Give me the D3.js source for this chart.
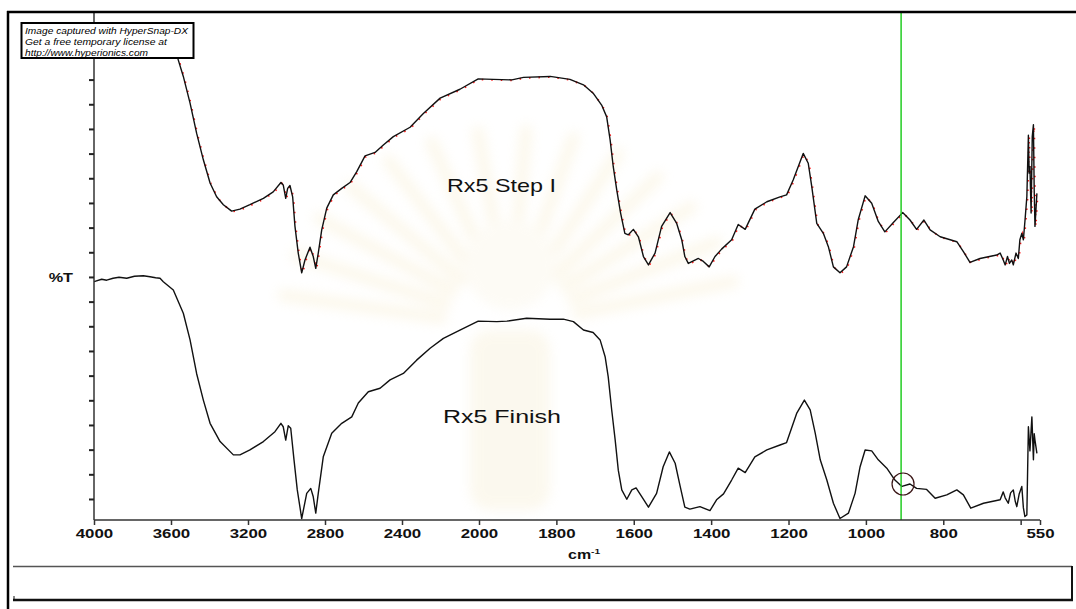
<!DOCTYPE html>
<html>
<head>
<meta charset="utf-8">
<script src="https://cdn.jsdelivr.net/npm/d3@7"></script>
<style>
  html, body { margin: 0; padding: 0; background: #fff; }
  svg { display: block; }
</style>
</head>
<body>
<svg id="chart" width="1076" height="609"></svg>
<script>
// ---------- DATA (wavenumber in cm-1, transmittance in arbitrary %T units) ----------
const stepWn = [3620,3590,3562,3536,3501,3467,3432,3397,3363,3328,3285,3242,3190,3120,3069,3029,3017,3004,2994,2982,2968,2956,2939,2921,2904,2878,2861,2848,2835,2817,2791,2757,2713,2670,2635,2592,2540,2497,2445,2358,2289,2202,2099,2004,1963,1915,1885,1816,1765,1730,1705,1683,1670,1661,1653,1644,1634,1623,1614,1601,1588,1575,1562,1545,1528,1506,1489,1476,1468,1459,1433,1420,1405,1390,1373,1347,1330,1312,1287,1256,1222,1205,1188,1162,1149,1140,1127,1110,1097,1084,1067,1050,1032,1020,1002,985,968,951,929,905,886,869,850,834,808,765,748,731,705,662,653,645,640,634,629,623,619,612,606,602,597,593,589,584,580,578,576,573,570,567,565,563,558];
const stepT  = [100,97,93.2,89.9,84.5,78.4,73.0,68.3,65.5,63.9,62.6,63.0,63.9,65.2,66.5,68.4,67.9,65.2,67.2,67.8,65.5,59.5,54.1,50.1,52.7,55.3,53.4,51.0,54.1,58.8,63.2,65.9,67.2,68.4,70.6,73.8,74.5,76.0,77.7,79.6,82.4,85.5,87.3,89.4,89.3,89.2,89.7,89.9,89.3,88.2,86.5,84.1,81.7,77.0,71.6,66.9,62.2,58.1,57.8,58.9,57.4,53.4,51.7,54.1,59.5,62.3,60.1,56.8,53.4,52.0,53.0,52.4,51.3,53.4,54.9,56.8,59.9,58.9,63.0,64.5,65.5,65.9,68.9,74.3,72.3,67.6,60.1,58.1,55.4,51.3,50.1,51.3,55.4,60.8,65.7,64.2,60.5,58.4,60.3,62.3,60.8,58.9,60.8,58.8,57.4,56.4,54.4,52.2,53.0,53.7,54.1,52.7,51.7,53.4,52.0,52.7,51.7,54.1,53.0,56.8,58.1,56.8,60.5,65.5,78.0,70.3,71.6,62.2,77.7,80.1,66.9,59.5,66.2];

const finWn = [4000,3960,3934,3901,3870,3830,3790,3744,3709,3680,3657,3640,3588,3536,3501,3467,3432,3397,3345,3276,3242,3190,3120,3060,3029,3017,3004,2991,2978,2961,2944,2921,2895,2874,2861,2848,2835,2809,2765,2713,2661,2627,2575,2514,2462,2393,2324,2254,2185,2099,2004,1954,1928,1877,1816,1782,1756,1730,1705,1687,1674,1666,1657,1648,1640,1631,1618,1605,1594,1579,1562,1541,1524,1508,1493,1480,1468,1455,1429,1403,1386,1368,1347,1330,1312,1287,1256,1222,1205,1179,1159,1144,1131,1118,1101,1084,1067,1045,1028,1015,1002,985,968,946,925,907,886,869,843,821,791,765,748,729,696,653,645,640,632,626,619,614,610,604,597,593,589,584,580,576,571,567,565,563,558];
const finT  = [48.3,48.8,48.6,49.0,49.2,49.0,49.4,49.5,49.3,49.1,49.0,48.3,46.6,41.9,36.5,29.7,24.3,19.6,15.9,13.2,13.2,14.2,15.9,17.9,19.6,18.9,16.2,19.1,18.6,12.2,6.1,0.3,5.4,6.4,4.7,1.4,5.4,12.8,17.6,19.6,20.9,23.7,26.0,26.7,28.4,29.7,32.4,34.8,36.8,38.5,40.3,40.2,40.3,40.9,40.7,40.7,40.2,38.5,38.0,36.5,33.1,29.0,22.3,16.2,10.1,6.1,4.2,6.1,6.5,4.7,2.6,5.4,10.8,13.8,11.5,6.8,2.6,2.2,2.7,1.9,4.1,5.3,8.1,10.5,9.6,12.8,14.2,15.2,15.7,21.6,24.3,22.3,17.6,12.2,8.1,3.4,0.3,1.4,5.4,10.8,14.2,14.0,12.2,10.5,8.1,6.8,7.3,6.4,6.2,4.4,5.1,6.1,5.1,2.4,3.4,4.1,5.7,4.5,3.4,5.5,6.1,3.8,2.7,5.2,6.8,2.5,0.7,1.0,18.9,14.0,20.9,12.2,17.5,16.2,13.5];

const xTickValues = [4000,3600,3200,2800,2400,2000,1800,1600,1400,1200,1000,800,600,550];
const xTickLabels = ["4000","3600","3200","2800","2400","2000","1800","1600","1400","1200","1000","800","","550"];
const yTickValues = [4.26,9.26,14.26,19.26,24.26,29.26,34.26,39.26,44.26,49.26,54.26,59.26,64.26,69.26,74.26,79.26,84.26,89.26];
const seriesLabels = ["Rx5 Step I","Rx5 Finish"];
const markerWn = 909;                 // green cursor line
const circleMark = {wn: 904, t: 7.3}; // circled point on the Finish curve
const watermarkLines = ["Image captured with HyperSnap-DX","Get a free temporary license at","http://www.hyperionics.com"];

// ---------- SCALES ----------
const svg = d3.select("#chart");
const x = d3.scaleLinear().domain([4000, 2000, 550]).range([94, 479, 1040]);
const y = d3.scaleLinear().domain([0, 94]).range([520, 56.2]);
const plotTop = 13, plotBottom = 520, plotLeft = 94, plotRight = 1040;

svg.append("rect").attr("width", 1076).attr("height", 609).attr("fill", "#fff");

// very faint background emblem (watermark of the source document)
const defs = svg.append("defs");
defs.append("filter").attr("id", "blur").append("feGaussianBlur").attr("stdDeviation", 6);
defs.append("clipPath").attr("id", "plotClip").append("rect")
  .attr("x", plotLeft).attr("y", plotTop).attr("width", plotRight - plotLeft + 2).attr("height", plotBottom - plotTop + 1);

const emb = svg.append("g").attr("filter", "url(#blur)").attr("opacity", 0.22);
const cx = 510, cy = 330;
d3.range(-170, -9, 12).forEach(a => {
  const r = a * Math.PI / 180;
  emb.append("line")
    .attr("x1", cx + Math.cos(r) * 70).attr("y1", cy + Math.sin(r) * 70)
    .attr("x2", cx + Math.cos(r) * 230).attr("y2", cy + Math.sin(r) * 200)
    .attr("stroke", "#f1dfa8").attr("stroke-width", 12).attr("stroke-linecap", "round");
});
emb.append("circle").attr("cx", cx).attr("cy", 265).attr("r", 45).attr("fill", "#f7eed3");
emb.append("rect").attr("x", 470).attr("y", 330).attr("width", 80).attr("height", 180).attr("fill", "#f1e2b4").attr("rx", 20);

// ---------- SPECTRA ----------
const line = d3.line().x(d => x(d[0])).y(d => y(d[1]));
const stepData = stepWn.map((w, i) => [w, stepT[i]]);
const finData = finWn.map((w, i) => [w, finT[i]]);

const plot = svg.append("g").attr("clip-path", "url(#plotClip)");
plot.append("path").datum(stepData).attr("d", line)
  .attr("fill", "none").attr("stroke", "#ff1a1a").attr("stroke-width", 1.8)
  .attr("stroke-dasharray", "1.5 8").attr("transform", "translate(0.8,0.6)");
plot.append("path").datum(stepData).attr("d", line)
  .attr("fill", "none").attr("stroke", "#111").attr("stroke-width", 1.4).attr("stroke-linejoin", "round");
plot.append("path").datum(finData).attr("d", line)
  .attr("fill", "none").attr("stroke", "#111").attr("stroke-width", 1.4).attr("stroke-linejoin", "round");

// green cursor
svg.append("line").attr("x1", x(markerWn)).attr("x2", x(markerWn)).attr("y1", 12).attr("y2", plotBottom)
  .attr("stroke", "#22cc22").attr("stroke-width", 1.5);

// circled point
svg.append("circle").attr("cx", x(circleMark.wn)).attr("cy", y(circleMark.t)).attr("r", 11)
  .attr("fill", "none").attr("stroke", "#3a1515").attr("stroke-width", 1.2);

// ---------- AXES ----------
const xAxis = svg.append("g").attr("transform", `translate(0,${plotBottom})`)
  .call(d3.axisBottom(x).tickValues(xTickValues).tickSize(5).tickSizeOuter(0)
    .tickFormat((d, i) => xTickLabels[i]));
xAxis.select(".domain").attr("stroke", "#333").attr("stroke-width", 1.5)
  .attr("d", `M${plotLeft},0H${plotRight}`);
xAxis.selectAll(".tick line").attr("stroke", "#333").attr("stroke-width", 1.5);
xAxis.selectAll(".tick text")
  .attr("dy", null).attr("y", 18)
  .attr("transform", "scale(1.35,1)")
  .style("font-family", "'Liberation Sans', Arial, sans-serif")
  .style("font-size", "12.5px").style("font-weight", "bold").attr("fill", "#111");

const yAxis = svg.append("g").attr("transform", `translate(${plotLeft},0)`)
  .call(d3.axisLeft(y).tickValues(yTickValues).tickSize(5).tickSizeOuter(0).tickFormat(""));
yAxis.select(".domain").attr("stroke", "#333").attr("stroke-width", 1.5)
  .attr("d", `M0,${plotTop}V${plotBottom}`);
yAxis.selectAll(".tick line").attr("stroke", "#222").attr("stroke-width", 2);

// axis titles
const font = "'Liberation Sans', Arial, sans-serif";
svg.append("text").attr("transform", "translate(73,281.5) scale(1.25,1)")
  .attr("text-anchor", "end").style("font-family", font).style("font-size", "13px")
  .style("font-weight", "bold").attr("fill", "#111").text("%T");

const cm = svg.append("text").attr("transform", "translate(568,559) scale(1.28,1)")
  .style("font-family", font).style("font-size", "12.5px").style("font-weight", "bold").attr("fill", "#111");
cm.append("tspan").text("cm");
cm.append("tspan").attr("dy", -5).style("font-size", "8px").text("-1");

// series labels
svg.append("text").attr("x", 447).attr("y", 192)
  .attr("textLength", 109).attr("lengthAdjust", "spacingAndGlyphs")
  .style("font-family", font).style("font-size", "18.6px").attr("fill", "#111").text(seriesLabels[0]);
svg.append("text").attr("x", 443).attr("y", 423)
  .attr("textLength", 118).attr("lengthAdjust", "spacingAndGlyphs")
  .style("font-family", font).style("font-size", "18.6px").attr("fill", "#111").text(seriesLabels[1]);

// ---------- FRAME / WATERMARK BOX ----------
svg.append("rect").attr("x", 21.5).attr("y", 23).attr("width", 172).attr("height", 35)
  .attr("fill", "#fff").attr("stroke", "#000").attr("stroke-width", 2);
const wmLen = [163, 142, 123];
const wmY = [33.5, 45, 55.5];
watermarkLines.forEach((t, i) => {
  svg.append("text").attr("x", 25).attr("y", wmY[i])
    .attr("textLength", wmLen[i]).attr("lengthAdjust", "spacingAndGlyphs")
    .style("font-family", font).style("font-size", "9px").style("font-style", "italic")
    .attr("fill", "#000").text(t);
});

// outer frame
svg.append("line").attr("x1", 7).attr("x2", 1076).attr("y1", 12).attr("y2", 12)
  .attr("stroke", "#000").attr("stroke-width", 2.5);
svg.append("line").attr("x1", 8).attr("x2", 8).attr("y1", 11).attr("y2", 609)
  .attr("stroke", "#000").attr("stroke-width", 2.5);

// bottom status box
svg.append("line").attr("x1", 13).attr("x2", 1072).attr("y1", 566.5).attr("y2", 566.5)
  .attr("stroke", "#555").attr("stroke-width", 1.5);
svg.append("line").attr("x1", 1072).attr("x2", 1072).attr("y1", 566).attr("y2", 600)
  .attr("stroke", "#111").attr("stroke-width", 2);
svg.append("line").attr("x1", 13).attr("x2", 1073).attr("y1", 600).attr("y2", 600)
  .attr("stroke", "#111").attr("stroke-width", 2.5);
svg.append("line").attr("x1", 14).attr("x2", 14).attr("y1", 596).attr("y2", 600)
  .attr("stroke", "#111").attr("stroke-width", 1);
</script>
</body>
</html>
